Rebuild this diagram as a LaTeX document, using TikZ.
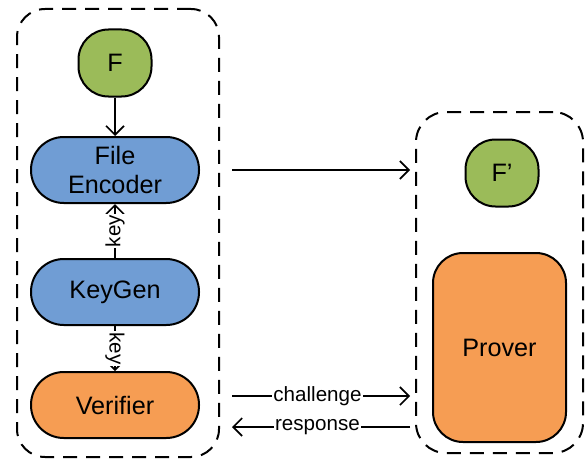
\documentclass[tikz,border=0pt]{standalone}
\usepackage{fontspec}
\setmainfont{Liberation Sans}
\usetikzlibrary{positioning}
\usetikzlibrary{arrows.meta}
\definecolor{filegreen}{RGB}{155,187,89}
\definecolor{procblue}{RGB}{112,157,212}
\definecolor{procorange}{RGB}{246,157,83}

\begin{document}
\begin{tikzpicture}[x=0.5pt, y=-0.5pt,
        party/.style={draw, dash pattern=on 7pt off 4.5pt, line width=1pt, rounded corners=14pt},
        filebox/.style={draw, line width=1pt, fill=filegreen, minimum width=36.5pt, minimum height=33.5pt, rounded corners=15pt, font=\fontsize{12.6}{14}\selectfont},
        proc/.style={draw, line width=1pt, minimum width=84pt, minimum height=33pt, rounded corners=16.4pt, align=center, font=\fontsize{12.6}{14.5}\selectfont},
        link/.style={line width=0.8pt, -{Straight Barb[length=4.5pt, width=9pt]}},
        lbl/.style={fill=white, inner sep=0.5pt, font=\fontsize{10.3}{12}\selectfont}]
    \useasboundingbox (0,0) rectangle (587,460);

    % the two parties
    \node [party, minimum width=101pt, minimum height=224pt] (client) at (118,233) {};
    \node [party, minimum width=83.5pt, minimum height=170.5pt, rounded corners=15pt] (server) at (499.5,282.5) {};

    % client side
    \node [filebox] (file) at (115,63) {F};
    \node [proc, fill=procblue] (encoder) at (115,170) {File\\Encoder};
    \node [proc, fill=procblue] (keygen) at (115,292) {KeyGen};
    \node [proc, fill=procorange] (verifier) at (115,405) {Verifier};

    % server side
    \node [filebox] (encfile) at (502,173) {F'};
    \node [draw, line width=1pt, fill=procorange, minimum width=66.5pt, minimum height=94.5pt, rounded corners=15pt,
        font=\fontsize{12.6}{14}\selectfont]
        (prover) at (499.5,347.5) {Prover};

    \draw [link] (file) -- (encoder);
    \draw [link] (keygen) -- node [lbl, rotate=90] {key} (encoder);
    \draw [link] (keygen) -- node [lbl, rotate=-90] {key} (verifier);

    \coordinate (upload) at (0,170);
    \coordinate (chal) at (0,396);
    \coordinate (resp) at (0,427);
    \draw [link, shorten <=6pt, shorten >=2.5pt] (upload -| client.east) -- (upload -| server.west);
    \draw [link, shorten <=6pt, shorten >=2.5pt] (chal -| client.east) -- node [lbl] {challenge} (chal -| server.west);
    \draw [link, shorten <=2.5pt, shorten >=6pt] (resp -| server.west) -- node [lbl] {response} (resp -| client.east);
\end{tikzpicture}
\end{document}
